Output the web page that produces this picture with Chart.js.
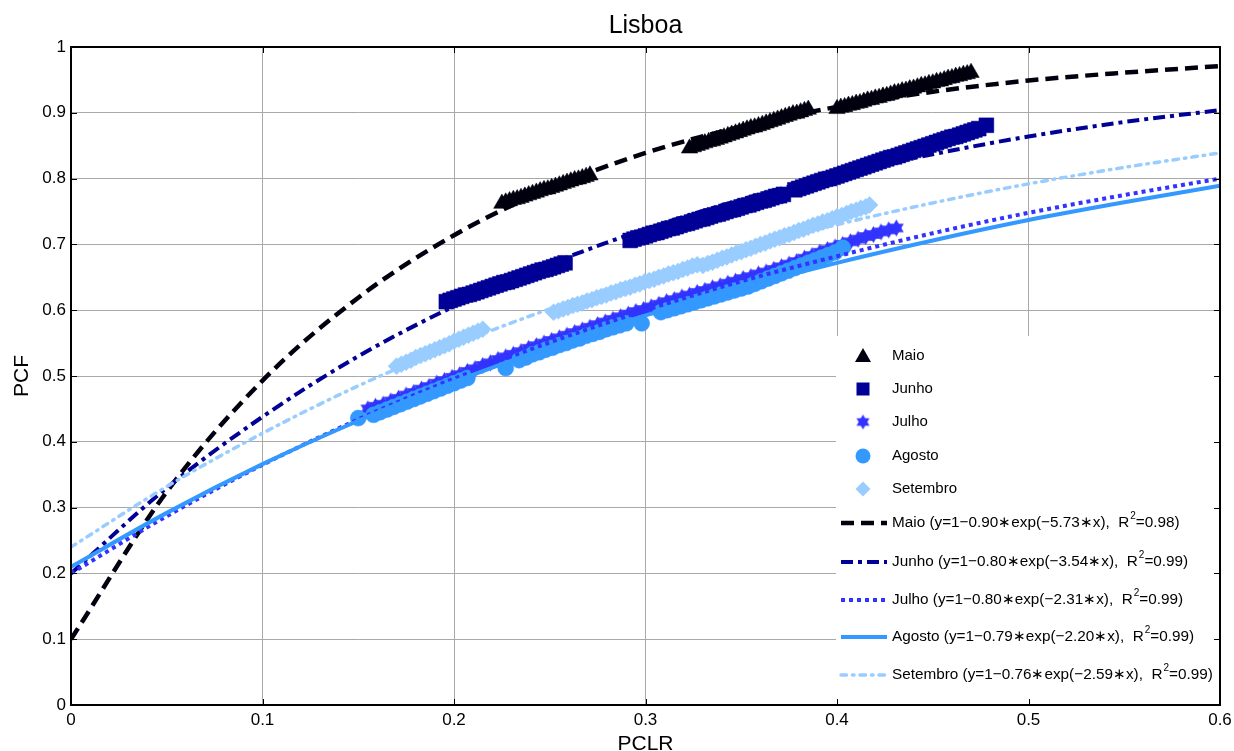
<!DOCTYPE html>
<html>
<head>
<meta charset="utf-8">
<title>Lisboa</title>
<script src="https://cdn.jsdelivr.net/npm/chart.js@4.4.1/dist/chart.umd.min.js"></script>
<style>
  html, body { margin: 0; padding: 0; background: #fff; }
</style>
</head>
<body>
<canvas id="myChart" width="1234" height="751"></canvas>
<script>
// Fitted curves at x = 0, 0.05 ... 0.6
const fitX = [0, 0.05, 0.10, 0.15, 0.20, 0.25, 0.30, 0.35, 0.40, 0.45, 0.50, 0.55, 0.60];
const maioFit     = [0.100, 0.324, 0.493, 0.619, 0.714, 0.785, 0.839, 0.879, 0.909, 0.932, 0.949, 0.961, 0.971];
const junhoFit    = [0.200, 0.330, 0.438, 0.530, 0.606, 0.670, 0.723, 0.768, 0.806, 0.837, 0.864, 0.886, 0.904];
const julhoFit    = [0.200, 0.287, 0.365, 0.434, 0.496, 0.551, 0.600, 0.644, 0.682, 0.717, 0.748, 0.775, 0.800];
const agostoFit   = [0.210, 0.292, 0.366, 0.432, 0.491, 0.544, 0.592, 0.634, 0.672, 0.706, 0.737, 0.764, 0.789];
const setembroFit = [0.240, 0.332, 0.413, 0.485, 0.547, 0.602, 0.651, 0.693, 0.730, 0.763, 0.792, 0.817, 0.839];

// Legend text of the fits
const months = ['Maio', 'Junho', 'Julho', 'Agosto', 'Setembro'];
const fitA  = ['0.90', '0.80', '0.80', '0.79', '0.76'];
const fitB  = ['5.73', '3.54', '2.31', '2.20', '2.59'];
const fitR2 = ['0.98', '0.99', '0.99', '0.99', '0.99'];

// Measured points (PCLR, PCF)
const maioX = [
  0.225,0.227,0.229,0.231,0.233,0.235,0.237,0.239,0.241,0.243,0.245,0.247,0.249,0.251,0.253,0.255,0.257,0.259,0.261,0.263,0.265,0.267,0.269,0.271,
  0.323,0.325,0.327,0.329,0.331,0.333,0.335,0.337,0.339,0.341,0.343,0.345,0.347,0.349,0.351,0.353,0.355,0.357,0.359,0.361,0.363,0.365,0.367,0.369,0.371,0.373,0.375,0.377,0.379,0.381,0.383,0.385,
  0.400,0.402,0.404,0.406,0.408,0.410,0.412,0.414,0.416,0.418,0.420,0.422,0.424,0.426,0.428,0.430,0.432,0.434,0.436,0.438,0.440,0.442,0.444,0.446,0.448,0.450,0.452,0.454,0.456,0.458,0.460,0.462,0.464,0.466,0.468,0.470];
const maioY = [
  0.762,0.764,0.766,0.768,0.769,0.771,0.773,0.775,0.777,0.779,0.781,0.783,0.784,0.786,0.788,0.790,0.792,0.794,0.796,0.798,0.799,0.801,0.803,0.805,
  0.846,0.848,0.850,0.852,0.854,0.856,0.857,0.859,0.861,0.863,0.865,0.867,0.869,0.871,0.873,0.875,0.877,0.878,0.880,0.882,0.884,0.886,0.888,0.890,0.892,0.894,0.896,0.898,0.899,0.901,0.903,0.905,
  0.906,0.908,0.909,0.911,0.912,0.914,0.915,0.917,0.919,0.920,0.922,0.923,0.925,0.926,0.928,0.930,0.931,0.933,0.934,0.936,0.937,0.939,0.941,0.942,0.944,0.945,0.947,0.948,0.950,0.952,0.953,0.955,0.956,0.958,0.959,0.961];

const junhoX = [
  0.196,0.198,0.200,0.202,0.204,0.206,0.208,0.210,0.212,0.214,0.216,0.218,0.220,0.222,0.224,0.226,0.228,0.230,0.232,0.234,0.236,0.238,0.240,0.242,0.244,0.246,0.248,0.250,0.252,0.254,0.256,0.258,
  0.292,0.294,0.296,0.298,0.300,0.302,0.304,0.306,0.308,0.310,0.312,0.314,0.316,0.318,0.320,0.322,0.324,0.326,0.328,0.330,0.332,0.334,0.336,0.338,0.340,0.342,0.344,0.346,0.348,0.350,0.352,0.354,0.356,0.358,0.360,0.362,0.364,0.366,0.368,0.370,0.372,
  0.378,0.380,0.382,0.384,0.386,0.388,0.390,0.392,0.394,0.396,0.398,0.400,0.402,0.404,0.406,0.408,0.410,0.412,0.414,0.416,0.418,0.420,0.422,0.424,0.426,0.428,0.430,0.432,0.434,0.436,0.438,0.440,0.442,0.444,0.446,0.448,0.450,0.452,0.454,0.456,0.458,0.460,0.462,0.464,0.466,0.468,0.470,0.472,0.474,0.478];
const junhoY = [
  0.613,0.615,0.617,0.619,0.621,0.623,0.624,0.626,0.628,0.630,0.632,0.634,0.636,0.638,0.640,0.642,0.643,0.645,0.647,0.649,0.651,0.653,0.655,0.657,0.659,0.661,0.662,0.664,0.666,0.668,0.670,0.672,
  0.706,0.708,0.710,0.711,0.713,0.715,0.717,0.718,0.720,0.722,0.724,0.725,0.727,0.729,0.731,0.732,0.734,0.736,0.738,0.739,0.741,0.743,0.745,0.746,0.748,0.750,0.752,0.753,0.755,0.757,0.759,0.760,0.762,0.764,0.766,0.767,0.769,0.771,0.773,0.774,0.776,
  0.783,0.785,0.787,0.789,0.791,0.793,0.795,0.797,0.799,0.800,0.802,0.804,0.806,0.808,0.810,0.812,0.814,0.816,0.818,0.820,0.822,0.824,0.826,0.828,0.830,0.832,0.833,0.835,0.837,0.839,0.841,0.843,0.845,0.847,0.849,0.851,0.853,0.855,0.857,0.859,0.861,0.863,0.864,0.866,0.868,0.870,0.872,0.874,0.876,0.881];

const julhoX = [
  0.155,0.159,0.163,0.167,0.171,0.175,0.179,0.183,0.187,0.191,0.195,0.199,0.203,0.207,0.211,0.215,0.219,0.223,0.227,0.231,0.235,0.239,0.243,0.247,0.251,0.255,0.259,0.263,0.267,0.271,0.275,0.279,0.283,0.287,0.291,
  0.295,0.299,0.303,0.307,0.311,0.315,0.319,0.323,0.327,0.331,0.335,0.339,0.343,0.347,0.351,0.355,0.359,0.363,0.367,0.371,0.375,0.379,0.383,0.387,0.391,0.395,0.399,0.403,0.407,0.411,0.415,0.419,0.423,0.427,0.431];
const julhoY = [
  0.450,0.454,0.457,0.462,0.466,0.471,0.475,0.480,0.484,0.489,0.493,0.498,0.502,0.507,0.511,0.516,0.520,0.525,0.529,0.533,0.537,0.542,0.546,0.550,0.554,0.558,0.562,0.566,0.570,0.574,0.578,0.582,0.586,0.590,0.594,
  0.598,0.601,0.605,0.609,0.613,0.616,0.620,0.623,0.627,0.630,0.634,0.637,0.641,0.644,0.648,0.651,0.655,0.658,0.662,0.666,0.670,0.674,0.679,0.683,0.688,0.692,0.696,0.700,0.704,0.708,0.712,0.715,0.719,0.722,0.725];

const agostoX = [
  0.150,0.158,0.1615,0.165,0.1685,0.172,0.1755,0.179,0.1825,0.186,0.1895,0.193,0.1965,0.200,0.2035,0.207,0.227,
  0.234,0.2375,0.241,0.2445,0.248,0.2515,0.255,0.2585,0.262,0.2655,0.269,0.2725,0.276,0.2795,0.283,0.2865,0.290,0.298,
  0.308,0.3115,0.315,0.3185,0.322,0.3255,0.329,0.3325,0.336,0.3395,0.343,0.3465,0.350,0.3535,0.357,0.3605,0.364,0.3675,0.371,0.3745,0.378,0.3815,0.385,0.3885,0.392,0.3955,0.399,0.403];
const agostoY = [
  0.436,0.441,0.445,0.449,0.453,0.457,0.461,0.465,0.469,0.473,0.477,0.481,0.485,0.489,0.493,0.497,0.512,
  0.524,0.528,0.533,0.536,0.540,0.543,0.547,0.550,0.554,0.557,0.561,0.564,0.567,0.571,0.574,0.577,0.580,0.580,
  0.597,0.600,0.603,0.606,0.609,0.612,0.615,0.618,0.621,0.624,0.627,0.630,0.633,0.636,0.640,0.644,0.648,0.652,0.656,0.660,0.664,0.668,0.672,0.676,0.680,0.684,0.688,0.695];

const setembroX = [
  0.170,0.1725,0.175,0.1775,0.180,0.1825,0.185,0.1875,0.190,0.1925,0.195,0.1975,0.200,0.2025,0.205,0.2075,0.210,0.2125,0.215,
  0.252,0.2545,0.257,0.2595,0.262,0.2645,0.267,0.2695,0.272,0.2745,0.277,0.2795,0.282,0.2845,0.287,0.2895,0.292,0.2945,0.297,0.2995,0.302,0.3045,0.307,0.3095,0.312,0.3145,0.317,0.3195,0.322,0.3245,0.327,
  0.330,0.3325,0.335,0.3375,0.340,0.3425,0.345,0.3475,0.350,0.3525,0.355,0.3575,0.360,0.3625,0.365,0.3675,0.370,0.3725,0.375,0.3775,0.380,0.3825,0.385,0.3875,0.390,0.3925,0.395,0.3975,0.400,0.4025,0.405,0.4075,0.410,0.4125,0.415,0.417];
const setembroY = [
  0.515,0.518,0.521,0.524,0.528,0.531,0.534,0.537,0.540,0.543,0.546,0.549,0.553,0.556,0.559,0.562,0.565,0.568,0.571,
  0.597,0.599,0.602,0.604,0.607,0.609,0.611,0.614,0.616,0.619,0.621,0.623,0.626,0.628,0.631,0.633,0.635,0.638,0.640,0.643,0.645,0.647,0.650,0.652,0.655,0.657,0.659,0.662,0.664,0.667,0.669,
  0.668,0.671,0.673,0.676,0.679,0.681,0.684,0.687,0.689,0.692,0.694,0.697,0.700,0.702,0.705,0.708,0.710,0.713,0.715,0.718,0.721,0.723,0.726,0.729,0.731,0.734,0.736,0.739,0.742,0.744,0.747,0.750,0.752,0.755,0.757,0.760];

const xTicks = [0, 0.1, 0.2, 0.3, 0.4, 0.5, 0.6];
const yTicks = [0, 0.1, 0.2, 0.3, 0.4, 0.5, 0.6, 0.7, 0.8, 0.9, 1];

const FONT = "'Liberation Sans', Arial, Helvetica, sans-serif";
const colors = ['#00000f', '#000096', '#3333ff', '#3399ff', '#99ccff'];

// six pointed star marker for Julho
function starMarker(color, r) {
  const c = document.createElement('canvas');
  const s = Math.ceil(r * 2 + 2);
  c.width = s; c.height = s;
  const g = c.getContext('2d');
  g.fillStyle = color;
  [0, Math.PI].forEach(rot => {
    g.beginPath();
    for (let k = 0; k < 3; k++) {
      const a = rot - Math.PI / 2 + k * 2 * Math.PI / 3;
      g.lineTo(s / 2 + r * Math.cos(a), s / 2 + r * Math.sin(a));
    }
    g.closePath();
    g.fill();
  });
  return c;
}
const star = starMarker(colors[2], 7.5);
const bigStar = starMarker(colors[2], 8.5);

const pts = (xs, ys) => xs.map((x, i) => ({ x: x, y: ys[i] }));
const curve = ys => fitX.map((x, i) => ({ x: x, y: ys[i] }));

const markerStyles = [
  { pointStyle: 'triangle', radius: 9.5 },
  { pointStyle: 'rect', radius: 10.5 },
  { pointStyle: bigStar, radius: 8 },
  { pointStyle: 'circle', radius: 8 },
  { pointStyle: 'rectRot', radius: 8.5 }
];
const lineStyles = [
  { width: 4.5, dash: [13, 7], cap: 'butt' },
  { width: 4, dash: [12, 5, 4, 5], cap: 'butt' },
  { width: 4, dash: [4, 4], cap: 'butt' },
  { width: 4, dash: [], cap: 'butt' },
  { width: 3.5, dash: [5.5, 6, 1.5, 6], cap: 'round' }
];

const fits = [maioFit, junhoFit, julhoFit, agostoFit, setembroFit];
const series = [[maioX, maioY], [junhoX, junhoY], [julhoX, julhoY], [agostoX, agostoY], [setembroX, setembroY]];

// first dataset is drawn on top, so fits go first and later months first
const datasets = [];
for (let i = 4; i >= 0; i--) {
  datasets.push({
    type: 'line',
    label: months[i] + ' fit',
    data: curve(fits[i]),
    borderColor: colors[i],
    borderWidth: lineStyles[i].width,
    borderDash: lineStyles[i].dash,
    borderCapStyle: lineStyles[i].cap,
    cubicInterpolationMode: 'monotone',
    pointRadius: 0,
    fill: false
  });
}
for (let i = 4; i >= 0; i--) {
  datasets.push({
    type: 'scatter',
    label: months[i],
    data: pts(series[i][0], series[i][1]),
    pointStyle: markerStyles[i].pointStyle,
    pointRadius: markerStyles[i].radius,
    backgroundColor: colors[i],
    borderColor: colors[i],
    pointBorderWidth: 0.5
  });
}

function drawMarker(ctx, i, x, y) {
  ctx.fillStyle = colors[i];
  ctx.beginPath();
  if (i === 0) {
    ctx.moveTo(x, y - 8); ctx.lineTo(x + 8, y + 6); ctx.lineTo(x - 8, y + 6); ctx.closePath(); ctx.fill();
  } else if (i === 1) {
    ctx.fillRect(x - 6.5, y - 6.5, 13, 13);
  } else if (i === 2) {
    ctx.drawImage(star, x - star.width / 2, y - star.height / 2);
  } else if (i === 3) {
    ctx.arc(x, y, 7.5, 0, Math.PI * 2); ctx.fill();
  } else {
    ctx.moveTo(x, y - 7.5); ctx.lineTo(x + 7.5, y); ctx.lineTo(x, y + 7.5); ctx.lineTo(x - 7.5, y); ctx.closePath(); ctx.fill();
  }
}

const decor = {
  id: 'decor',
  afterDatasetsDraw(chart) {
    const ctx = chart.ctx;
    const a = chart.chartArea;
    const sx = chart.scales.x, sy = chart.scales.y;
    ctx.save();

    // legend box, lower right inside the axes
    const L = a.right - 384, T = a.bottom - 369;
    ctx.fillStyle = '#fff';
    ctx.fillRect(L, T, a.right - L, a.bottom - T);
    ctx.font = '15px ' + FONT;
    ctx.textBaseline = 'middle';
    ctx.textAlign = 'left';
    const markerRows = [20, 53, 86, 120, 153];
    const lineRows = [187, 226, 264, 301, 339];
    for (let i = 0; i < 5; i++) {
      const yy = T + markerRows[i];
      drawMarker(ctx, i, L + 27, yy);
      ctx.fillStyle = '#000';
      ctx.fillText(months[i], L + 56, yy);
    }
    for (let i = 0; i < 5; i++) {
      const yy = T + lineRows[i];
      ctx.strokeStyle = colors[i];
      ctx.lineWidth = lineStyles[i].width;
      ctx.setLineDash(lineStyles[i].dash);
      ctx.lineCap = lineStyles[i].cap;
      ctx.beginPath();
      ctx.moveTo(L + 5, yy); ctx.lineTo(L + 51, yy);
      ctx.stroke();
      ctx.setLineDash([]);
      ctx.lineCap = 'butt';
      ctx.fillStyle = '#000';
      ctx.font = '15.3px ' + FONT;
      const s1 = months[i] + ' (y=1\u2212' + fitA[i] + '\u2217exp(\u2212' + fitB[i] + '\u2217x),  R';
      let tx = L + 56;
      ctx.fillText(s1, tx, yy);
      tx += ctx.measureText(s1).width;
      ctx.font = '10px ' + FONT;
      ctx.fillText('2', tx + 1, yy - 7);
      tx += ctx.measureText('2').width + 1;
      ctx.font = '15.3px ' + FONT;
      ctx.fillText('=' + fitR2[i] + ')', tx, yy);
    }

    // axes box with inward ticks
    ctx.strokeStyle = '#000';
    ctx.lineWidth = 1;
    ctx.beginPath();
    xTicks.forEach(v => {
      const px = Math.round(sx.getPixelForValue(v)) + 0.5;
      ctx.moveTo(px, a.bottom); ctx.lineTo(px, a.bottom - 6);
      ctx.moveTo(px, a.top); ctx.lineTo(px, a.top + 6);
    });
    yTicks.forEach(v => {
      const py = Math.round(sy.getPixelForValue(v)) + 0.5;
      ctx.moveTo(a.left, py); ctx.lineTo(a.left + 6, py);
      ctx.moveTo(a.right, py); ctx.lineTo(a.right - 6, py);
    });
    ctx.stroke();
    ctx.lineWidth = 2;
    ctx.strokeRect(a.left, a.top, a.right - a.left, a.bottom - a.top);

    // title and axis labels
    ctx.fillStyle = '#000';
    ctx.textBaseline = 'alphabetic';
    ctx.textAlign = 'center';
    ctx.font = '25px ' + FONT;
    ctx.fillText('Lisboa', (a.left + a.right) / 2, 33);
    ctx.font = '21px ' + FONT;
    ctx.fillText('PCLR', (a.left + a.right) / 2, 750);
    ctx.translate(28, (a.top + a.bottom) / 2);
    ctx.rotate(-Math.PI / 2);
    ctx.fillText('PCF', 0, 0);
    ctx.restore();
  }
};

const ctx = document.getElementById('myChart').getContext('2d');
const myChart = new Chart(ctx, {
  data: { datasets: datasets },
  options: {
    responsive: false,
    animation: false,
    events: [],
    layout: { padding: { left: 0, right: 14, top: 47, bottom: 0 } },
    plugins: { legend: { display: false }, title: { display: false }, tooltip: { enabled: false } },
    scales: {
      x: {
        type: 'linear', min: 0, max: 0.6,
        afterFit: s => { s.height = 46; s.paddingLeft = 0; s.paddingRight = 0; },
        afterBuildTicks: s => { s.ticks = xTicks.map(v => ({ value: v })); },
        ticks: {
          padding: 5, color: '#000', font: { family: FONT, size: 17 },
          maxRotation: 0, autoSkip: false,
          callback: v => v === 0 ? '0' : v.toFixed(1)
        },
        grid: { color: '#a9a9a9', lineWidth: 1, drawTicks: false },
        border: { display: false }
      },
      y: {
        type: 'linear', min: 0, max: 1,
        afterFit: s => { s.width = 71; s.paddingTop = 0; s.paddingBottom = 0; },
        afterBuildTicks: s => { s.ticks = yTicks.map(v => ({ value: v })); },
        ticks: {
          padding: 5, color: '#000', font: { family: FONT, size: 17 },
          autoSkip: false,
          callback: v => (v === 0 || v === 1) ? String(v) : v.toFixed(1)
        },
        grid: { color: '#a9a9a9', lineWidth: 1, drawTicks: false },
        border: { display: false }
      }
    }
  },
  plugins: [decor]
});
</script>
</body>
</html>
